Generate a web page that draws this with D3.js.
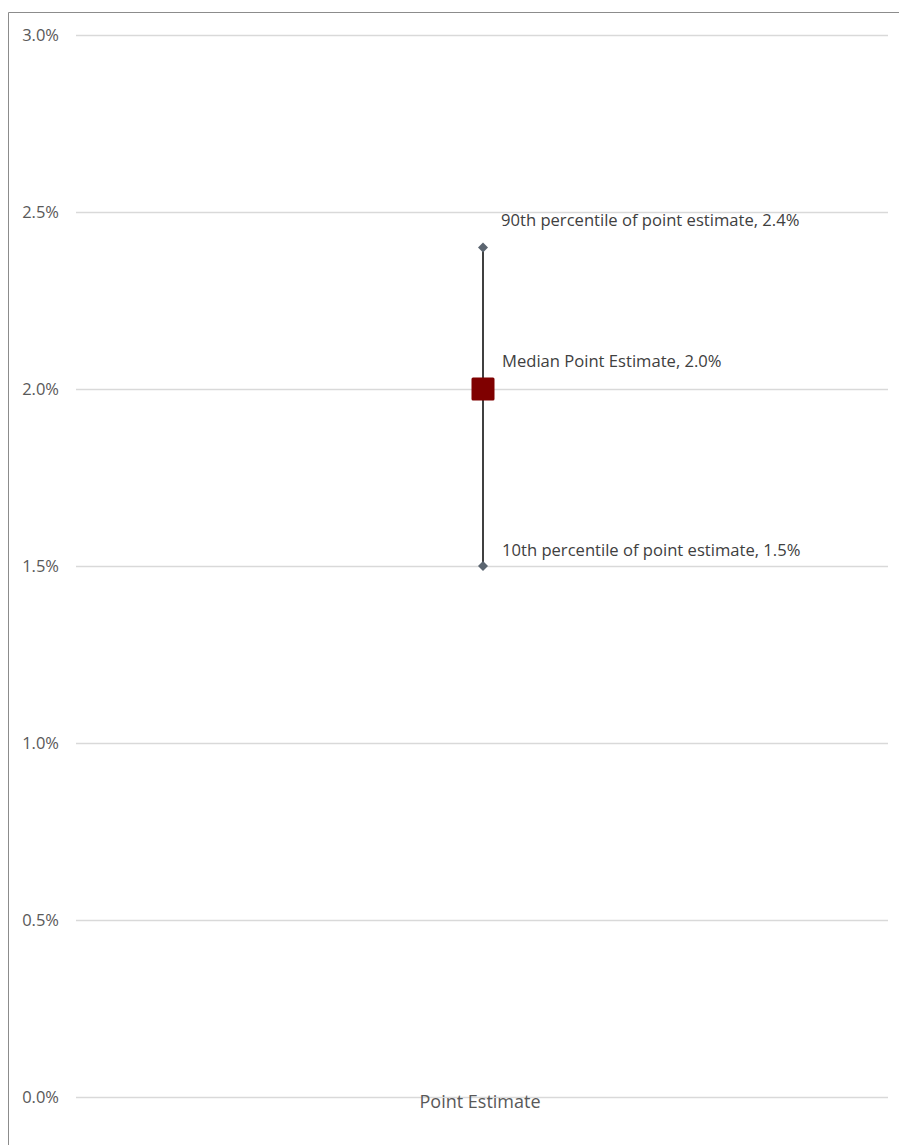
<!DOCTYPE html>
<html><head><meta charset="utf-8">
<script src="https://cdn.jsdelivr.net/npm/d3@7"></script>
<style>html,body{margin:0;padding:0;background:#fff;}svg{display:block;}</style>
</head><body>
<svg id="c" width="899" height="1145"></svg>
<script>
const categories = ["Point Estimate"];
const p10 = [0.015];
const median = [0.020];
const p90 = [0.024];
const labels10 = ["10th percentile of point estimate, 1.5%"];
const labelsMed = ["Median Point Estimate, 2.0%"];
const labels90 = ["90th percentile of point estimate, 2.4%"];
const yTicks = [0, 0.005, 0.010, 0.015, 0.020, 0.025, 0.030];

const svg = d3.select("#c");
const font = "'Open Sans', 'Noto Sans', sans-serif";

// frame
svg.append("line").attr("x1",8.5).attr("x2",899).attr("y1",12.5).attr("y2",12.5).attr("stroke","#8c8c8c").attr("stroke-width",1);
svg.append("line").attr("x1",8.5).attr("x2",8.5).attr("y1",12.5).attr("y2",1145).attr("stroke","#8c8c8c").attr("stroke-width",1);

const x = d3.scaleBand().domain(categories).range([76, 888]);
const y = d3.scaleLinear().domain([0, 0.03]).range([1097, 35]);

// gridlines
svg.append("g").selectAll("line").data(yTicks).join("line")
  .attr("x1",76).attr("x2",888)
  .attr("y1",d=>Math.round(y(d))+0.5).attr("y2",d=>Math.round(y(d))+0.5)
  .attr("stroke","#d9d9d9").attr("stroke-width",1.5);

// y axis labels
const yAxis = d3.axisLeft(y).tickValues(yTicks).tickFormat(d3.format(".1%")).tickSize(0).tickPadding(0);
const ga = svg.append("g").attr("transform","translate(59,0)").call(yAxis);
ga.select(".domain").remove();
ga.selectAll("text").attr("font-family",font).attr("font-size",16.5).attr("fill","#595959").attr("dy","0.35em");

// x axis label
const xAxis = d3.axisBottom(x).tickSize(0).tickPadding(0);
const gx = svg.append("g").attr("transform","translate(-2,1097)").call(xAxis);
gx.select(".domain").remove();
gx.selectAll("text").attr("font-family",font).attr("font-size",18).attr("fill","#595959").attr("dy","0").attr("y",11);

const cx = d => x(d) + x.bandwidth()/2 + 1;

// whisker
svg.append("g").selectAll("line").data(categories).join("line")
  .attr("x1",cx).attr("x2",cx)
  .attr("y1",(d,i)=>y(p90[i])).attr("y2",(d,i)=>y(p10[i]))
  .attr("stroke","#404040").attr("stroke-width",2);

// diamonds
const diam = d3.symbol().type(d3.symbolDiamond2).size(64);
const pts = [];
categories.forEach((c,i)=>{pts.push({c,v:p10[i]});pts.push({c,v:p90[i]});});
svg.append("g").selectAll("path").data(pts).join("path")
  .attr("d",diam)
  .attr("transform",d=>`translate(${cx(d.c)},${y(d.v)})`)
  .attr("fill","#5b6570");

// median square
svg.append("g").selectAll("rect").data(categories).join("rect")
  .attr("x",d=>cx(d)-11.5).attr("y",(d,i)=>y(median[i])-11.5)
  .attr("width",23).attr("height",23).attr("rx",1.5)
  .attr("fill","#7f0000");

// labels
const lab = svg.append("g").attr("font-family",font).attr("font-size",16.6).attr("fill","#404040");
categories.forEach((c,i)=>{
  lab.append("text").attr("x",cx(c)+18).attr("y",y(p90[i])-21).text(labels90[i]);
  lab.append("text").attr("x",cx(c)+19).attr("y",y(median[i])-22).text(labelsMed[i]);
  lab.append("text").attr("x",cx(c)+19).attr("y",y(p10[i])-10).text(labels10[i]);
});
</script>
</body></html>
